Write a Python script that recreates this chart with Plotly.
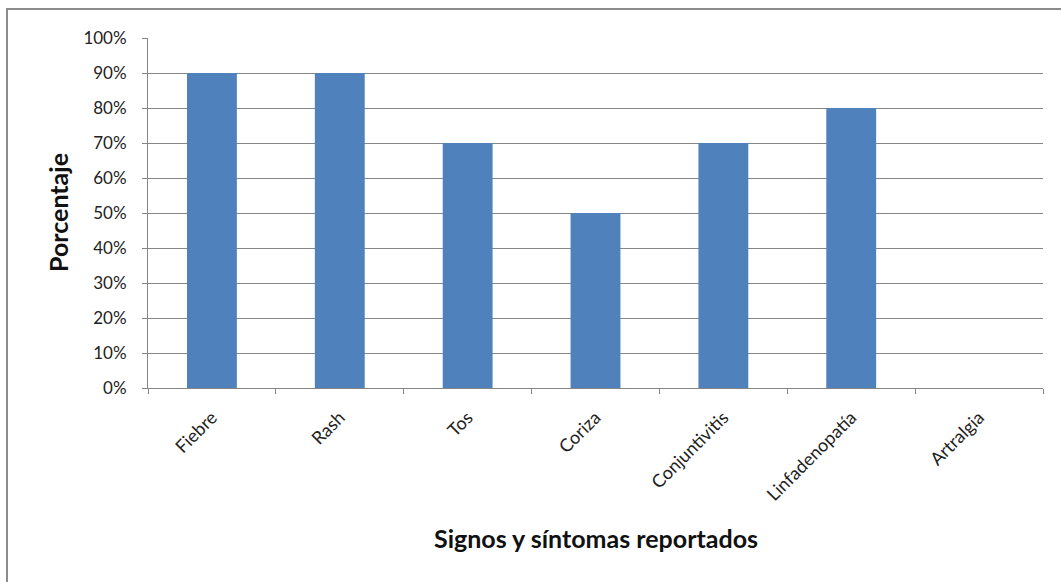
import plotly.graph_objects as go

# Reported signs and symptoms (percentage of cases)
categorias = ["Fiebre", "Rash", "Tos", "Coriza", "Conjuntivitis", "Linfadenopatía", "Artralgia"]
porcentajes = [90, 90, 70, 50, 70, 80, 0]
y_ticks = [0, 10, 20, 30, 40, 50, 60, 70, 80, 90, 100]
y_labels = [f"{v}%" for v in y_ticks]

W, H = 1061, 582
L, R, T, B = 148, 18, 38, 194
pw, ph = W - L - R, H - T - B

grid = "#868686"
font = "Lato"

fig = go.Figure(
    go.Bar(
        x=categorias,
        y=porcentajes,
        marker=dict(color="#4F81BD", line=dict(width=0)),
        width=0.39,
    )
)

fig.update_layout(
    width=W,
    height=H,
    margin=dict(l=L, r=R, t=T, b=B, pad=0),
    plot_bgcolor="white",
    paper_bgcolor="white",
    showlegend=False,
    font=dict(family=font, size=17, color="#222222"),
    yaxis=dict(
        range=[0, 100],
        tickmode="array",
        tickvals=y_ticks,
        ticktext=y_labels,
        showgrid=True,
        gridcolor=grid,
        gridwidth=1,
        showline=True,
        linecolor=grid,
        linewidth=1,
        ticks="outside",
        ticklen=5,
        tickcolor=grid,
        ticklabelstandoff=12,
        zeroline=False,
        tickfont=dict(family=font, size=17, color="#222222"),
        fixedrange=True,
    ),
    xaxis=dict(
        showline=True,
        linecolor=grid,
        linewidth=1,
        ticks="outside",
        ticklen=5,
        tickcolor=grid,
        tickson="boundaries",
        tickangle=-45,
        ticklabelstandoff=11,
        tickfont=dict(family=font, size=18, color="#222222"),
        showgrid=False,
        fixedrange=True,
    ),
)

# Axis titles
fig.add_annotation(
    text="<b>Porcentaje</b>",
    xref="paper", yref="paper",
    x=(58 - L) / pw, y=(H - B - 213) / ph,
    xanchor="center", yanchor="middle",
    textangle=-90, showarrow=False,
    font=dict(size=25, family=font, color="#111111"),
)
fig.add_annotation(
    text="<b>Signos y síntomas reportados</b>",
    xref="paper", yref="paper",
    x=0.5, y=(H - B - 538) / ph,
    xanchor="center", yanchor="middle",
    showarrow=False,
    font=dict(size=25, family=font, color="#111111"),
)

# Outer chart frame
fig.add_shape(
    type="rect",
    xref="paper", yref="paper",
    x0=(7 - L) / pw, x1=(W + 20 - L) / pw,
    y0=(H - B - (H + 20)) / ph, y1=(H - B - 9) / ph,
    line=dict(color="#8c8c8c", width=2),
    fillcolor="rgba(0,0,0,0)",
    layer="below",
)

fig.write_html("out.html")
